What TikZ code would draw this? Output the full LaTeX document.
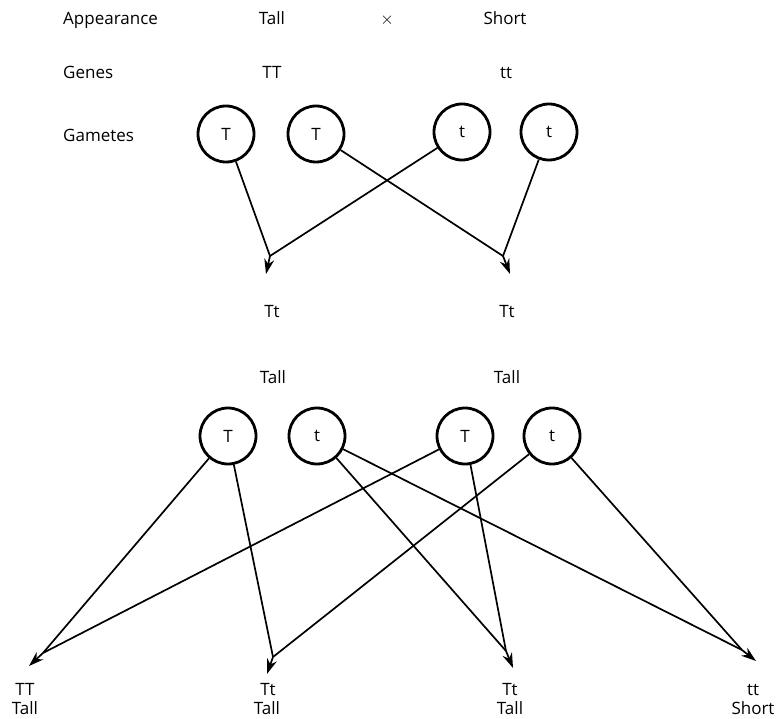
\documentclass[tikz,border=0pt]{standalone}
\usepackage{fontspec}
\setmainfont{Open Sans}
\usetikzlibrary{arrows.meta}
\begin{document}
\begin{tikzpicture}[x=1pt,y=-1pt,
  lbl/.style={anchor=base,inner sep=0pt,font=\fontsize{17}{20}\selectfont},
  lblw/.style={anchor=base west,inner sep=0pt,font=\fontsize{17}{20}\selectfont},
  gam/.style={circle,draw,line width=2.8pt,minimum size=56pt,inner sep=0pt,font=\fontsize{17}{20}\selectfont},
  link/.style={line width=1.7pt},
  tip/.style={line width=1.7pt,-{Stealth[length=15pt,width=10pt]}}]
\useasboundingbox (0,0) rectangle (776,719);
% header rows
\node[lblw] (app) at (63,25) {Appearance};
\node[lbl] (tall0) at (272,25) {Tall};
\node[lbl] (cross) at (387,25) {$\times$};
\node[lbl] (short0) at (505,25) {Short};
\node[lblw] (genes) at (63,79) {Genes};
\node[lbl] (TT0) at (272,79) {TT};
\node[lbl] (tt0) at (506,79) {tt};
\node[lblw] (gametes) at (63,142) {Gametes};
% parent gametes
\node[gam] (a1) at (226,134) {T};
\node[gam] (a2) at (316,134) {T};
\node[gam] (a3) at (462,132) {t};
\node[gam] (a4) at (549,132) {t};
% F1 junctions
\coordinate (j1) at (270,256);
\coordinate (k1) at (266,274);
\coordinate (j2) at (503,256);
\coordinate (k2) at (510,274);
\draw[link] (a1) -- (j1);
\draw[link] (a3) -- (j1);
\draw[tip] (j1) -- (k1);
\draw[link] (a2) -- (j2);
\draw[link] (a4) -- (j2);
\draw[tip] (j2) -- (k2);
\node[lbl] (f1a) at (272,317) {Tt};
\node[lbl] (f1b) at (507,317) {Tt};
\node[lbl] (f1ta) at (273,383) {Tall};
\node[lbl] (f1tb) at (507,383) {Tall};
% F1 gametes
\node[gam] (b1) at (228,436) {T};
\node[gam] (b2) at (317,436) {t};
\node[gam] (b3) at (465,436) {T};
\node[gam] (b4) at (552,436) {t};
% F2 junctions
\coordinate (m1) at (43,653);
\coordinate (n1) at (29,666);
\coordinate (m2) at (273,657);
\coordinate (n2) at (267,674);
\coordinate (m3) at (506,651);
\coordinate (n3) at (513,668);
\coordinate (m4) at (742,650);
\coordinate (n4) at (756,661);
\draw[link] (b1) -- (m1);
\draw[link] (b3) -- (m1);
\draw[tip] (m1) -- (n1);
\draw[link] (b1) -- (m2);
\draw[link] (b4) -- (m2);
\draw[tip] (m2) -- (n2);
\draw[link] (b2) -- (m3);
\draw[link] (b3) -- (m3);
\draw[tip] (m3) -- (n3);
\draw[link] (b2) -- (m4);
\draw[link] (b4) -- (m4);
\draw[tip] (m4) -- (n4);
% F2 labels
\node[lbl] (g1) at (25,695) {TT};
\node[lbl] (p1) at (25,714) {Tall};
\node[lbl] (g2) at (268,695) {Tt};
\node[lbl] (p2) at (267,714) {Tall};
\node[lbl] (g3) at (510,695) {Tt};
\node[lbl] (p3) at (510,714) {Tall};
\node[lbl] (g4) at (753,695) {tt};
\node[lbl] (p4) at (753,714) {Short};
\end{tikzpicture}
\end{document}
